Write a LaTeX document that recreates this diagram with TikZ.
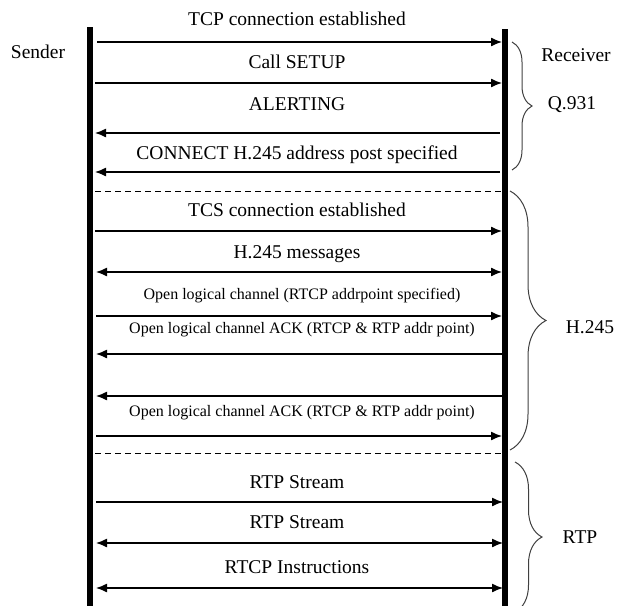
\documentclass[tikz,border=0pt]{standalone}
\usepackage{fontspec}
\setmainfont{Liberation Serif}
\usetikzlibrary{arrows.meta,decorations.pathreplacing}

\tikzset{
  lifeline/.style={line width=6pt},
  msg/.style={line width=1.3pt,-{Latex[length=11pt,width=9pt]}},
  msgboth/.style={line width=1.3pt,{Latex[length=11pt,width=9pt]}-{Latex[length=11pt,width=9pt]}},
  sep/.style={line width=1pt,dash pattern=on 6pt off 4pt},
  grp/.style={decorate,decoration={brace,amplitude=#1},line width=1pt,black!75},
  lbl/.style={font=\rmfamily\fontsize{19.5}{21}\selectfont},
  small/.style={font=\rmfamily\fontsize{16}{18}\selectfont}
}

\begin{document}
\begin{tikzpicture}[x=1pt,y=-1pt]
      \useasboundingbox (0,0) rectangle (618,605);
      \clip (0,0) rectangle (618,605);
      \coordinate (s top) at (90,27);
      \coordinate (s bot) at (90,610);
      \coordinate (r top) at (505,29);
      \coordinate (r bot) at (505,610);
      \draw[lifeline] (s top) -- (s bot);
      \draw[lifeline] (r top) -- (r bot);
      \node[lbl] (sender) at (38,52){Sender};
      \node[lbl] (receiver) at (576,55){Receiver};
      \coordinate (s1) at (97,42);  \coordinate (r1) at (502,42);
      \coordinate (s2) at (95,83);  \coordinate (r2) at (502,83);
      \coordinate (s3) at (95,133); \coordinate (r3) at (500,133);
      \coordinate (s4) at (95,172); \coordinate (r4) at (500,172);
      \coordinate (s5) at (95,231); \coordinate (r5) at (502,231);
      \coordinate (s6) at (96,272); \coordinate (r6) at (502,272);
      \coordinate (s7) at (96,316); \coordinate (r7) at (502,316);
      \coordinate (s8) at (96,354); \coordinate (r8) at (502,354);
      \coordinate (s9) at (96,396); \coordinate (r9) at (502,396);
      \coordinate (s10) at (96,436); \coordinate (r10) at (502,436);
      \coordinate (s11) at (96,502); \coordinate (r11) at (503,502);
      \coordinate (s12) at (96,543); \coordinate (r12) at (503,543);
      \coordinate (s13) at (96,588); \coordinate (r13) at (503,588);
      \draw[msg] (s1) -- (r1);
      \draw[msg] (s2) -- (r2);
      \draw[msg] (r3) -- (s3);
      \draw[msg] (r4) -- (s4);
      \draw[msg] (s5) -- (r5);
      \draw[msgboth] (s6) -- (r6);
      \draw[msg] (s7) -- (r7);
      \draw[msg] (r8) -- (s8);
      \draw[msg] (r9) -- (s9);
      \draw[msg] (s10) -- (r10);
      \draw[msg] (s11) -- (r11);
      \draw[msgboth] (s12) -- (r12);
      \draw[msgboth] (s13) -- (r13);
      \node[lbl] (m1) at (297,19){TCP connection established};
      \node[lbl] (m2) at (297,62){Call SETUP};
      \node[lbl] (m3) at (297,104){ALERTING};
      \node[lbl] (m4) at (297,155){CONNECT H.245 address post specified};
      \node[lbl] (m5) at (297,210){TCS connection established};
      \node[lbl] (m6) at (297,254){H.245 messages};
      \node[small] (m7) at (302,296){Open logical channel (RTCP addrpoint specified)};
      \node[small] (m8) at (302,330){Open logical channel ACK (RTCP \& RTP addr point)};
      \node[small] (m10) at (302,413){Open logical channel ACK (RTCP \& RTP addr point)};
      \node[lbl] (m11) at (297,482){RTP Stream};
      \node[lbl] (m12) at (297,522){RTP Stream};
      \node[lbl] (m13) at (297,567){RTCP Instructions};
      \coordinate (d1 a) at (95,191);  \coordinate (d1 b) at (503,191);
      \coordinate (d2 a) at (95,453);  \coordinate (d2 b) at (503,453);
      \draw[sep] (d1 a) -- (d1 b);
      \draw[sep] (d2 a) -- (d2 b);
      \coordinate (q top) at (512,42);  \coordinate (q bot) at (512,170);
      \coordinate (h top) at (510,191); \coordinate (h bot) at (510,450);
      \coordinate (t top) at (515,462); \coordinate (t bot) at (515,612);
      \draw[grp=20pt] (q top) -- (q bot);
      \draw[grp=36pt] (h top) -- (h bot);
      \draw[grp=27pt] (t top) -- (t bot);
      \node[lbl] (q931) at (572,105){Q.931};
      \node[lbl] (h245) at (590,327){H.245};
      \node[lbl] (rtp) at (580,537){RTP};
   \end{tikzpicture}
\end{document}
